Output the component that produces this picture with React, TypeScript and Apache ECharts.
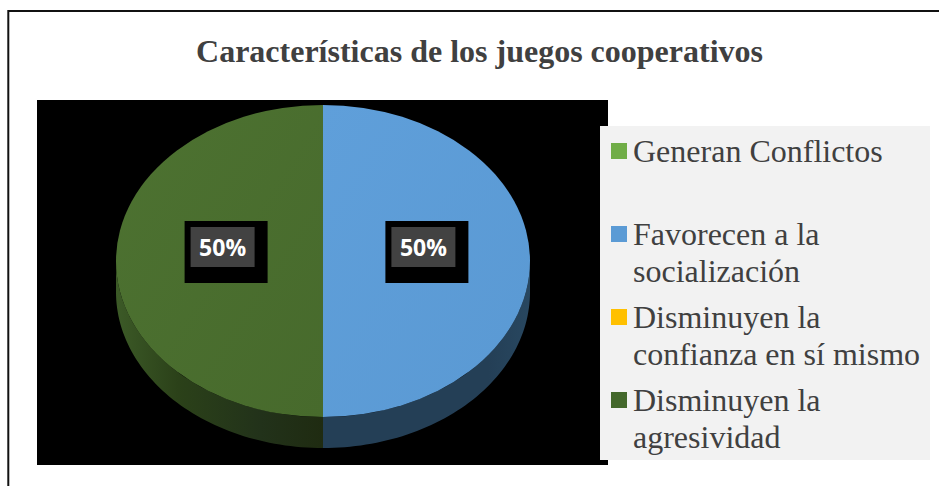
import React, { useEffect, useRef } from "react";
import * as echarts from "echarts";

// ---- data ----
const chartTitle = "Características de los juegos cooperativos";
const categories = [
  "Generan Conflictos",
  "Favorecen a la socialización",
  "Disminuyen la confianza en sí mismo",
  "Disminuyen la agresividad",
];
const legendLabels = [
  "Generan Conflictos",
  "Favorecen a la\nsocialización",
  "Disminuyen la\nconfianza en sí mismo",
  "Disminuyen la\nagresividad",
];
const values = [0, 50, 0, 50];

// ---- styles ----
const legendColors = ["#70ad47", "#5b9bd5", "#ffc000", "#43682b"];
const topFills = [
  ["#78b54d", "#70ad47"],
  ["#5f9fda", "#5a99d3"],
  ["#ffc61a", "#ffc000"],
  ["#4d7231", "#476a2c"],
];
const sideFills = [
  [["#3f6a27", 0], ["#2f5020", 1]],
  [["#243f56", 0], ["#243f56", 0.8], ["#284760", 1]],
  [["#9a7400", 0], ["#7a5c00", 1]],
  [["#3c5a27", 0], ["#2b4119", 0.3], ["#22321a", 0.7], ["#1f2b11", 1]],
];

const W = 939;
const H = 486;
const CX = 323;
const CY = 261;
const RX = 207;
const RY = 156;
const DEPTH = 31;

const total = values.reduce((a, b) => a + b, 0);

function arcPoints(s: number, e: number, dy: number) {
  const pts: number[][] = [];
  const n = 60;
  for (let k = 0; k <= n; k++) {
    const t = s + ((e - s) * k) / n;
    pts.push([CX + RX * Math.cos(t), CY + RY * Math.sin(t) + dy]);
  }
  return pts;
}

function grad(stops: any[]) {
  return {
    type: "linear",
    x: 0,
    y: 0,
    x2: 1,
    y2: 0,
    colorStops: stops.map((s) => ({ color: s[0], offset: s[1] })),
  };
}

export default function App() {
  const ref = useRef<HTMLDivElement>(null);

  useEffect(() => {
    if (!ref.current) return;
    const chart = echarts.init(ref.current, null, { renderer: "svg" });

    const legendTop = 132.5;
    const legendStep = 83;
    const legendItems: any[] = [];
    categories.forEach((c, i) => {
      const y = legendTop + legendStep * i;
      legendItems.push({
        type: "rect",
        shape: { x: 611, y: y + 18.5 - 8, width: 16, height: 16 },
        style: { fill: legendColors[i] },
        z: 3,
      });
      legendItems.push({
        type: "text",
        x: 633,
        y: y,
        style: {
          text: legendLabels[i],
          font: '32px "Liberation Serif", "Times New Roman", serif',
          fill: "#404040",
          lineHeight: 37,
          align: "left",
          verticalAlign: "top",
        },
        z: 3,
      });
    });

    const option: any = {
      animation: false,
      backgroundColor: "#ffffff",
      graphic: [
        {
          type: "rect",
          shape: { x: 8.3, y: 11, width: 1200, height: 1000 },
          style: { fill: "none", stroke: "#111", lineWidth: 2 },
          z: 0,
        },
        {
          type: "text",
          x: 479.5,
          y: 50.5,
          style: {
            text: chartTitle,
            font: 'bold 32px "Liberation Serif", "Times New Roman", serif',
            fill: "#404040",
            align: "center",
            verticalAlign: "middle",
          },
          z: 0,
        },
        {
          type: "rect",
          shape: { x: 37, y: 100, width: 571, height: 365 },
          style: { fill: "#000000" },
          z: 0,
        },
        {
          type: "rect",
          shape: { x: 600, y: 126, width: 330, height: 334 },
          style: { fill: "#f2f2f2" },
          z: 1,
        },
        ...legendItems,
      ],
      series: [
        {
          type: "custom",
          coordinateSystem: "none",
          z: 2,
          data: values.map((v, i) => ({ name: categories[i], value: v })),
          renderItem: (params: any, api: any) => {
            const i = params.dataIndex;
            const v = api.value(0);
            if (!v || !total) return { type: "group", children: [] };
            let before = 0;
            for (let k = 0; k < i; k++) before += values[k];
            const a0 = -Math.PI / 2 + (before / total) * Math.PI * 2;
            const a1 = a0 + (v / total) * Math.PI * 2;
            const children: any[] = [];

            // visible side (front half of the ellipse)
            const ranges = [
              [0, Math.PI],
              [Math.PI * 2, Math.PI * 3],
            ];
            ranges.forEach(([r0, r1]) => {
              const s = Math.max(a0, r0);
              const e = Math.min(a1, r1);
              if (e > s) {
                const top = arcPoints(s, e, 0);
                const bottom = arcPoints(s, e, DEPTH).reverse();
                children.push({
                  type: "polygon",
                  shape: { points: top.concat(bottom) },
                  style: { fill: grad(sideFills[i]) },
                  z2: 1,
                });
              }
            });

            // top face
            children.push({
              type: "sector",
              x: CX,
              y: CY,
              scaleX: 1,
              scaleY: RY / RX,
              shape: {
                cx: 0,
                cy: 0,
                r0: 0,
                r: RX,
                startAngle: a0,
                endAngle: a1,
                clockwise: true,
              },
              style: {
                fill: {
                  type: "linear",
                  x: 0,
                  y: 0,
                  x2: 1,
                  y2: 1,
                  colorStops: [
                    { offset: 0, color: topFills[i][0] },
                    { offset: 1, color: topFills[i][1] },
                  ],
                },
              },
              z2: 2,
            });

            // data label
            const mid = (a0 + a1) / 2;
            const lx = CX + RX * 0.485 * Math.cos(mid);
            const ly = CY + RY * 0.485 * Math.sin(mid) - 14;
            const bw = 64;
            const bh = 40;
            children.push({
              type: "rect",
              shape: { x: lx - bw / 2 - 6, y: ly - bh / 2 - 6, width: bw + 19, height: bh + 22 },
              style: { fill: "#000000" },
              z2: 3,
            });
            children.push({
              type: "rect",
              shape: { x: lx - bw / 2, y: ly - bh / 2, width: bw, height: bh },
              style: { fill: "#424242" },
              z2: 4,
            });
            children.push({
              type: "text",
              x: lx,
              y: ly,
              style: {
                text: Math.round((v / total) * 100) + "%",
                font: 'bold 23px "Open Sans", "Noto Sans", sans-serif',
                fill: "#ffffff",
                align: "center",
                verticalAlign: "middle",
              },
              z2: 5,
            });

            return { type: "group", children };
          },
        },
      ],
    };

    chart.setOption(option);
    return () => chart.dispose();
  }, []);

  return (
    <div
      ref={ref}
      style={{ position: "fixed", left: 0, top: 0, width: W, height: H, background: "#fff" }}
    />
  );
}
